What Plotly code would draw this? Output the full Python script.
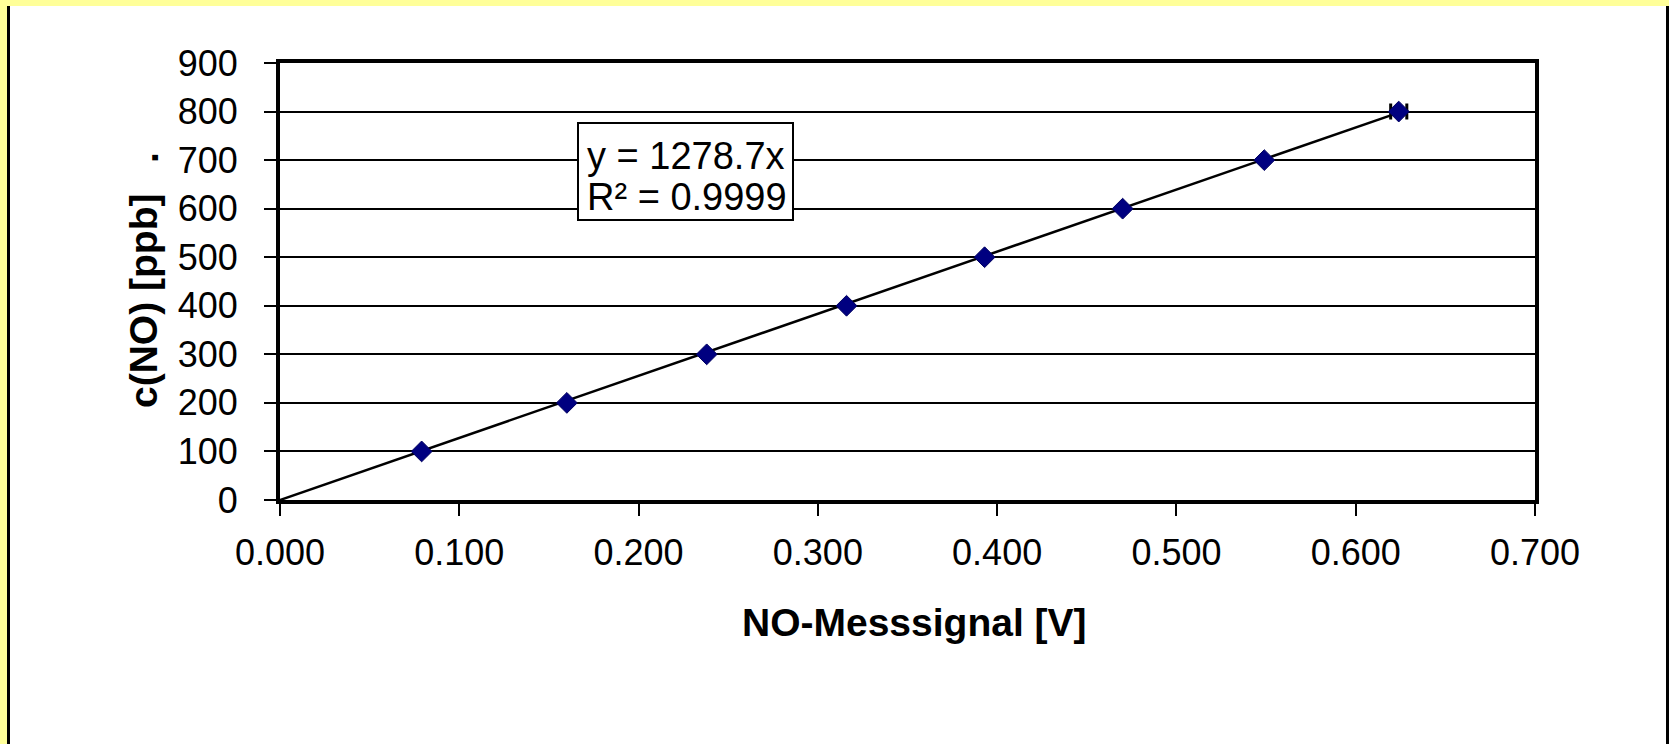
import plotly.graph_objects as go

# ---- data ----
signal_v = [0.079, 0.160, 0.238, 0.316, 0.393, 0.470, 0.549, 0.624]
c_no_ppb = [100, 200, 300, 400, 500, 600, 700, 800]
x_err = [0, 0, 0, 0, 0, 0, 0, 0.0045]
slope = 1278.7
r2 = 0.9999
x_ticks = [0.0, 0.1, 0.2, 0.3, 0.4, 0.5, 0.6, 0.7]
y_ticks = [0, 100, 200, 300, 400, 500, 600, 700, 800, 900]

# ---- layout geometry (pixels) ----
W, H = 1669, 744
L, R, T, B = 280, 1535, 63, 500
PW, PH = R - L, B - T


def px(xp):
    return (xp - L) / PW


def py(yp):
    return (B - yp) / PH


FONT = "Liberation Sans, Arial, sans-serif"

fig = go.Figure()

# trendline y = slope * x, through origin to last point
trend_x = [0, max(signal_v)]
trend_y = [slope * v for v in trend_x]
fig.add_trace(go.Scatter(
    x=trend_x, y=trend_y, mode="lines",
    line=dict(color="black", width=2.5), showlegend=False, hoverinfo="skip"))

fig.add_trace(go.Scatter(
    x=signal_v, y=c_no_ppb, mode="markers",
    marker=dict(symbol="diamond", size=16, color="#000080",
                line=dict(color="#000060", width=1)),
    error_x=dict(type="data", array=x_err, color="black", thickness=3, width=8),
    showlegend=False))

axis_common = dict(
    showline=True, linecolor="black", linewidth=4, mirror=True,
    ticks="outside", tickcolor="black", ticklen=12, tickwidth=2,
    zeroline=False,
    tickfont=dict(family=FONT, size=36, color="black"),
)

fig.update_xaxes(
    range=[0, 0.7], tickvals=x_ticks, tickformat=".3f", showgrid=False,
    ticklabelstandoff=6, **axis_common)
fig.update_yaxes(
    range=[0, 900], tickvals=y_ticks, showgrid=True, gridcolor="black",
    gridwidth=2, ticklabelstandoff=19, **axis_common)

shapes = [
    # white chart area with black side borders
    dict(type="rect", xref="paper", yref="paper", layer="below",
         x0=px(8), x1=px(1669), y0=py(6), y1=py(744),
         fillcolor="white", line=dict(width=0)),
    dict(type="line", xref="paper", yref="paper", layer="below",
         x0=px(8.5), x1=px(8.5), y0=py(6), y1=py(744),
         line=dict(color="black", width=3)),
    dict(type="line", xref="paper", yref="paper", layer="below",
         x0=px(1667.5), x1=px(1667.5), y0=py(6), y1=py(744),
         line=dict(color="black", width=3)),
    # box of the regression label
    dict(type="rect", xref="paper", yref="paper", layer="above",
         x0=px(578), x1=px(793), y0=py(123), y1=py(220),
         fillcolor="white", line=dict(color="black", width=2)),
]

annotations = [
    dict(text="<b>c(NO) [ppb]</b>", xref="paper", yref="paper",
         x=px(143), y=py(301), textangle=-90, showarrow=False,
         xanchor="center", yanchor="middle",
         font=dict(family=FONT, size=39, color="black")),
    dict(text="<b>.</b>", xref="paper", yref="paper",
         x=px(144), y=py(158), textangle=-90, showarrow=False,
         xanchor="center", yanchor="middle",
         font=dict(family=FONT, size=39, color="black")),
    dict(text="<b>NO-Messsignal [V]</b>", xref="paper", yref="paper",
         x=px(914), y=py(622), showarrow=False,
         xanchor="center", yanchor="middle",
         font=dict(family=FONT, size=39, color="black")),
    dict(text=f"y = {slope}x", xref="paper", yref="paper",
         x=px(586), y=py(156), showarrow=False,
         xanchor="left", yanchor="middle", align="left", borderpad=0,
         font=dict(family=FONT, size=38, color="black")),
    dict(text=f"R² = {r2}", xref="paper", yref="paper",
         x=px(586), y=py(197), showarrow=False,
         xanchor="left", yanchor="middle", align="left", borderpad=0,
         font=dict(family=FONT, size=38, color="black")),
]

fig.update_layout(
    width=W, height=H,
    margin=dict(l=L, r=W - R, t=T, b=H - B, pad=0),
    paper_bgcolor="#FFFF99", plot_bgcolor="white",
    shapes=shapes, annotations=annotations,
    showlegend=False,
)

fig.write_html("out.html", config={"displayModeBar": False})
